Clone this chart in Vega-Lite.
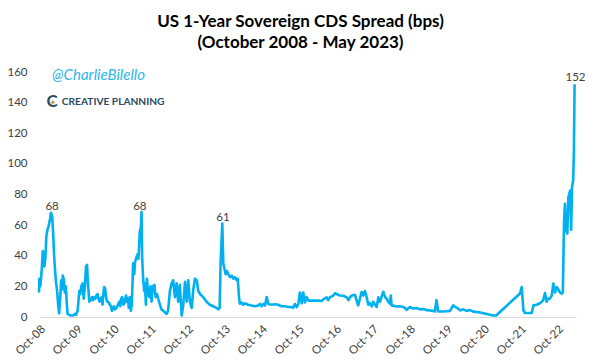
{
  "$schema": "https://vega.github.io/schema/vega-lite/v6.json",
  "autosize": {"type": "none"},
  "padding": {"left": 39, "top": 72, "right": 21, "bottom": 47},
  "width": 537,
  "height": 245,
  "background": "#ffffff",
  "config": {"view": {"stroke": null}, "font": "Lato"},
  "title": {
    "text": ["US 1-Year Sovereign CDS Spread (bps)", "(October 2008 - May 2023)"],
    "font": "Lato",
    "fontSize": 17,
    "fontWeight": "bold",
    "color": "#000000",
    "lineHeight": 21.5,
    "offset": 14,
    "dx": -7,
    "anchor": "middle"
  },
  "datasets": {
    "cds": [
      {"d": "2008-10-01", "v": 16}, {"d": "2008-10-05", "v": 25}, {"d": "2008-10-13", "v": 20}, {"d": "2008-10-20", "v": 24},
      {"d": "2008-10-30", "v": 33}, {"d": "2008-11-07", "v": 43}, {"d": "2008-11-14", "v": 41}, {"d": "2008-11-24", "v": 33},
      {"d": "2008-12-04", "v": 40}, {"d": "2008-12-13", "v": 53}, {"d": "2008-12-23", "v": 57}, {"d": "2009-01-03", "v": 59},
      {"d": "2009-01-18", "v": 64}, {"d": "2009-01-27", "v": 68}, {"d": "2009-02-07", "v": 66}, {"d": "2009-02-17", "v": 56},
      {"d": "2009-02-28", "v": 39}, {"d": "2009-03-09", "v": 30}, {"d": "2009-03-19", "v": 22}, {"d": "2009-03-29", "v": 17},
      {"d": "2009-04-08", "v": 8}, {"d": "2009-04-18", "v": 2.4}, {"d": "2009-04-28", "v": 12}, {"d": "2009-05-08", "v": 24},
      {"d": "2009-05-17", "v": 18}, {"d": "2009-05-24", "v": 27}, {"d": "2009-06-04", "v": 24}, {"d": "2009-06-13", "v": 16},
      {"d": "2009-06-23", "v": 20}, {"d": "2009-07-03", "v": 8}, {"d": "2009-07-10", "v": 2}, {"d": "2009-07-22", "v": 1.5},
      {"d": "2009-08-12", "v": 1}, {"d": "2009-09-01", "v": 1}, {"d": "2009-09-21", "v": 2}, {"d": "2009-10-01", "v": 1.5},
      {"d": "2009-10-17", "v": 4}, {"d": "2009-10-25", "v": 10}, {"d": "2009-11-03", "v": 17}, {"d": "2009-11-12", "v": 15},
      {"d": "2009-11-22", "v": 20}, {"d": "2009-12-06", "v": 22}, {"d": "2009-12-16", "v": 12}, {"d": "2009-12-28", "v": 20},
      {"d": "2010-01-08", "v": 33}, {"d": "2010-01-18", "v": 34}, {"d": "2010-01-27", "v": 22}, {"d": "2010-02-10", "v": 10},
      {"d": "2010-02-20", "v": 12}, {"d": "2010-02-28", "v": 11}, {"d": "2010-03-09", "v": 13}, {"d": "2010-03-19", "v": 11},
      {"d": "2010-03-29", "v": 13}, {"d": "2010-04-10", "v": 12}, {"d": "2010-04-20", "v": 14}, {"d": "2010-05-02", "v": 15},
      {"d": "2010-05-11", "v": 12}, {"d": "2010-05-21", "v": 10}, {"d": "2010-06-01", "v": 12}, {"d": "2010-06-11", "v": 13},
      {"d": "2010-06-20", "v": 8}, {"d": "2010-06-28", "v": 15}, {"d": "2010-07-06", "v": 19.6}, {"d": "2010-07-16", "v": 18.5},
      {"d": "2010-07-25", "v": 13}, {"d": "2010-08-05", "v": 10}, {"d": "2010-08-15", "v": 10}, {"d": "2010-09-01", "v": 8},
      {"d": "2010-09-11", "v": 7}, {"d": "2010-09-21", "v": 4}, {"d": "2010-10-01", "v": 6}, {"d": "2010-10-10", "v": 7},
      {"d": "2010-10-20", "v": 5}, {"d": "2010-11-05", "v": 6}, {"d": "2010-11-19", "v": 8}, {"d": "2010-12-02", "v": 10},
      {"d": "2010-12-12", "v": 7}, {"d": "2010-12-21", "v": 12}, {"d": "2011-01-01", "v": 13}, {"d": "2011-01-11", "v": 8},
      {"d": "2011-01-22", "v": 9}, {"d": "2011-02-07", "v": 14}, {"d": "2011-02-17", "v": 10}, {"d": "2011-02-26", "v": 12},
      {"d": "2011-03-06", "v": 6}, {"d": "2011-03-16", "v": 13}, {"d": "2011-03-26", "v": 4}, {"d": "2011-04-05", "v": 8},
      {"d": "2011-04-18", "v": 35}, {"d": "2011-04-29", "v": 28}, {"d": "2011-05-07", "v": 36}, {"d": "2011-05-21", "v": 39},
      {"d": "2011-06-01", "v": 41}, {"d": "2011-06-10", "v": 38}, {"d": "2011-06-23", "v": 56}, {"d": "2011-07-03", "v": 58},
      {"d": "2011-07-10", "v": 68.6}, {"d": "2011-07-16", "v": 39}, {"d": "2011-07-25", "v": 26}, {"d": "2011-08-05", "v": 17},
      {"d": "2011-08-12", "v": 22}, {"d": "2011-08-22", "v": 8}, {"d": "2011-09-01", "v": 25}, {"d": "2011-09-11", "v": 18},
      {"d": "2011-09-24", "v": 13}, {"d": "2011-10-07", "v": 20}, {"d": "2011-10-17", "v": 10}, {"d": "2011-10-30", "v": 20},
      {"d": "2011-11-14", "v": 21}, {"d": "2011-11-26", "v": 13}, {"d": "2011-12-09", "v": 15}, {"d": "2011-12-21", "v": 12},
      {"d": "2012-01-08", "v": 8}, {"d": "2012-01-22", "v": 5}, {"d": "2012-02-10", "v": 4}, {"d": "2012-02-26", "v": 3},
      {"d": "2012-03-13", "v": 2}, {"d": "2012-03-28", "v": 4}, {"d": "2012-04-15", "v": 17}, {"d": "2012-05-02", "v": 22},
      {"d": "2012-05-17", "v": 24}, {"d": "2012-06-04", "v": 13}, {"d": "2012-06-20", "v": 22}, {"d": "2012-07-06", "v": 10},
      {"d": "2012-07-22", "v": 21}, {"d": "2012-08-09", "v": 1}, {"d": "2012-08-25", "v": 8}, {"d": "2012-09-11", "v": 23},
      {"d": "2012-09-28", "v": 10}, {"d": "2012-10-13", "v": 24}, {"d": "2012-10-30", "v": 10}, {"d": "2012-11-16", "v": 6},
      {"d": "2012-12-02", "v": 18}, {"d": "2012-12-18", "v": 25}, {"d": "2013-01-05", "v": 24}, {"d": "2013-01-20", "v": 17},
      {"d": "2013-02-07", "v": 15}, {"d": "2013-03-09", "v": 13}, {"d": "2013-04-12", "v": 10}, {"d": "2013-05-14", "v": 8},
      {"d": "2013-06-16", "v": 7}, {"d": "2013-07-19", "v": 6}, {"d": "2013-08-05", "v": 5}, {"d": "2013-08-19", "v": 6},
      {"d": "2013-08-28", "v": 35}, {"d": "2013-09-14", "v": 61}, {"d": "2013-09-24", "v": 35}, {"d": "2013-10-17", "v": 28},
      {"d": "2013-10-30", "v": 30}, {"d": "2013-11-12", "v": 28}, {"d": "2013-11-29", "v": 26}, {"d": "2013-12-16", "v": 27},
      {"d": "2014-01-01", "v": 25}, {"d": "2014-01-18", "v": 26}, {"d": "2014-02-02", "v": 24}, {"d": "2014-02-14", "v": 25},
      {"d": "2014-02-26", "v": 13}, {"d": "2014-03-06", "v": 8.7}, {"d": "2014-03-23", "v": 9.5}, {"d": "2014-04-08", "v": 8},
      {"d": "2014-04-25", "v": 9}, {"d": "2014-05-27", "v": 8}, {"d": "2014-06-29", "v": 7.5}, {"d": "2014-08-02", "v": 7},
      {"d": "2014-09-04", "v": 7.5}, {"d": "2014-09-21", "v": 8.5}, {"d": "2014-10-07", "v": 7}, {"d": "2014-10-23", "v": 8.5},
      {"d": "2014-11-10", "v": 7.5}, {"d": "2014-11-26", "v": 13}, {"d": "2014-12-12", "v": 8.5}, {"d": "2015-01-15", "v": 8},
      {"d": "2015-02-17", "v": 8.3}, {"d": "2015-03-19", "v": 8}, {"d": "2015-04-22", "v": 7}, {"d": "2015-05-24", "v": 7},
      {"d": "2015-06-26", "v": 6.5}, {"d": "2015-07-29", "v": 6.5}, {"d": "2015-08-15", "v": 6}, {"d": "2015-09-01", "v": 8.5},
      {"d": "2015-09-18", "v": 6.5}, {"d": "2015-10-04", "v": 8.5}, {"d": "2015-10-20", "v": 16}, {"d": "2015-11-07", "v": 9},
      {"d": "2015-11-22", "v": 16}, {"d": "2015-12-09", "v": 9.5}, {"d": "2015-12-25", "v": 13}, {"d": "2016-01-11", "v": 10.7},
      {"d": "2016-02-14", "v": 10.7}, {"d": "2016-03-16", "v": 10.7}, {"d": "2016-04-18", "v": 10.7}, {"d": "2016-05-21", "v": 10.5},
      {"d": "2016-06-07", "v": 11.5}, {"d": "2016-07-10", "v": 12.8}, {"d": "2016-07-25", "v": 11}, {"d": "2016-08-12", "v": 13},
      {"d": "2016-09-14", "v": 14}, {"d": "2016-10-01", "v": 15.5}, {"d": "2016-10-17", "v": 15}, {"d": "2016-11-19", "v": 14},
      {"d": "2016-12-21", "v": 13.9}, {"d": "2017-01-24", "v": 12.8}, {"d": "2017-02-10", "v": 11}, {"d": "2017-02-26", "v": 13},
      {"d": "2017-03-16", "v": 14}, {"d": "2017-04-15", "v": 14.5}, {"d": "2017-05-01", "v": 11}, {"d": "2017-05-17", "v": 7.6},
      {"d": "2017-06-04", "v": 12}, {"d": "2017-06-20", "v": 16.3}, {"d": "2017-07-06", "v": 14}, {"d": "2017-07-22", "v": 17},
      {"d": "2017-08-09", "v": 13}, {"d": "2017-08-25", "v": 8}, {"d": "2017-09-11", "v": 9}, {"d": "2017-09-28", "v": 7},
      {"d": "2017-10-13", "v": 10}, {"d": "2017-10-30", "v": 8}, {"d": "2017-11-16", "v": 6.5}, {"d": "2017-12-02", "v": 12.8},
      {"d": "2017-12-18", "v": 10}, {"d": "2018-01-20", "v": 16.5}, {"d": "2018-02-07", "v": 13}, {"d": "2018-02-24", "v": 11.8},
      {"d": "2018-03-09", "v": 10}, {"d": "2018-03-26", "v": 8.7}, {"d": "2018-04-04", "v": 14}, {"d": "2018-04-12", "v": 7.6},
      {"d": "2018-06-01", "v": 6.9}, {"d": "2018-07-03", "v": 7}, {"d": "2018-08-05", "v": 6.5}, {"d": "2018-08-22", "v": 6},
      {"d": "2018-09-08", "v": 4.7}, {"d": "2018-10-10", "v": 6.5}, {"d": "2018-11-12", "v": 5.5}, {"d": "2018-12-16", "v": 5.9},
      {"d": "2019-01-17", "v": 5}, {"d": "2019-02-19", "v": 5.2}, {"d": "2019-03-23", "v": 4.5}, {"d": "2019-04-25", "v": 4.3},
      {"d": "2019-05-27", "v": 4}, {"d": "2019-06-13", "v": 3.6}, {"d": "2019-06-29", "v": 11}, {"d": "2019-07-16", "v": 3.6},
      {"d": "2019-09-04", "v": 3.6}, {"d": "2019-10-07", "v": 3.8}, {"d": "2019-11-09", "v": 4}, {"d": "2019-12-11", "v": 7.6},
      {"d": "2020-01-14", "v": 6}, {"d": "2020-01-30", "v": 5.5}, {"d": "2020-02-17", "v": 4.3}, {"d": "2020-03-19", "v": 5},
      {"d": "2020-04-22", "v": 4}, {"d": "2020-05-24", "v": 4.5}, {"d": "2020-06-26", "v": 3.5}, {"d": "2020-07-29", "v": 3.3},
      {"d": "2020-09-01", "v": 3}, {"d": "2020-10-03", "v": 2.5}, {"d": "2020-11-07", "v": 2}, {"d": "2020-12-09", "v": 1.5},
      {"d": "2021-01-11", "v": 1}, {"d": "2021-02-07", "v": 1}, {"d": "2021-09-30", "v": 15.3}, {"d": "2021-10-17", "v": 19.6},
      {"d": "2021-11-03", "v": 4.4}, {"d": "2021-11-19", "v": 2.6}, {"d": "2022-01-24", "v": 2.6}, {"d": "2022-02-10", "v": 7.6},
      {"d": "2022-03-13", "v": 8}, {"d": "2022-04-15", "v": 9}, {"d": "2022-05-01", "v": 9.8}, {"d": "2022-05-17", "v": 11},
      {"d": "2022-06-04", "v": 15.7}, {"d": "2022-06-20", "v": 10}, {"d": "2022-07-06", "v": 12}, {"d": "2022-07-22", "v": 12},
      {"d": "2022-08-09", "v": 14}, {"d": "2022-08-25", "v": 21.8}, {"d": "2022-09-11", "v": 16}, {"d": "2022-09-28", "v": 19.6},
      {"d": "2022-10-13", "v": 18}, {"d": "2022-10-30", "v": 16}, {"d": "2022-11-16", "v": 15.3}, {"d": "2022-11-27", "v": 16},
      {"d": "2022-12-09", "v": 62}, {"d": "2022-12-18", "v": 74}, {"d": "2022-12-28", "v": 57}, {"d": "2023-01-11", "v": 54.5},
      {"d": "2023-01-20", "v": 78}, {"d": "2023-02-07", "v": 82.6}, {"d": "2023-02-17", "v": 57}, {"d": "2023-02-26", "v": 85},
      {"d": "2023-03-09", "v": 89}, {"d": "2023-03-16", "v": 107}, {"d": "2023-03-23", "v": 152}
    ],
    "peaks": [
      {"d": "2009-02-07", "v": 68, "label": "68"},
      {"d": "2011-06-23", "v": 68, "label": "68"},
      {"d": "2013-09-21", "v": 61, "label": "61"},
      {"d": "2023-04-01", "v": 152, "label": "152"}
    ]
  },
  "encoding": {
    "x": {
      "field": "d", "type": "temporal",
      "scale": {"type": "utc", "domain": [{"year": 2008, "month": 10, "date": 1, "utc": true}, {"year": 2023, "month": 4, "date": 6, "utc": true}]},
      "axis": {
        "title": null,
        "format": "%b-%y",
        "values": [
          {"year": 2008, "month": 10, "date": 1, "utc": true}, {"year": 2009, "month": 10, "date": 1, "utc": true},
          {"year": 2010, "month": 10, "date": 1, "utc": true}, {"year": 2011, "month": 10, "date": 1, "utc": true},
          {"year": 2012, "month": 10, "date": 1, "utc": true}, {"year": 2013, "month": 10, "date": 1, "utc": true},
          {"year": 2014, "month": 10, "date": 1, "utc": true}, {"year": 2015, "month": 10, "date": 1, "utc": true},
          {"year": 2016, "month": 10, "date": 1, "utc": true}, {"year": 2017, "month": 10, "date": 1, "utc": true},
          {"year": 2018, "month": 10, "date": 1, "utc": true}, {"year": 2019, "month": 10, "date": 1, "utc": true},
          {"year": 2020, "month": 10, "date": 1, "utc": true}, {"year": 2021, "month": 10, "date": 1, "utc": true},
          {"year": 2022, "month": 10, "date": 1, "utc": true}
        ],
        "labelAngle": -45,
        "labelAlign": "right",
        "labelBaseline": "top",
        "labelPadding": 6,
        "labelFont": "Lato",
        "labelFontSize": 11.5,
        "labelColor": "#404040",
        "labelOverlap": false,
        "labelFlush": false,
        "ticks": false,
        "grid": false,
        "domainColor": "#d9d9d9",
        "domainWidth": 1
      }
    },
    "y": {
      "field": "v", "type": "quantitative",
      "scale": {"domain": [0, 160], "nice": false},
      "axis": {
        "title": null,
        "values": [0, 20, 40, 60, 80, 100, 120, 140, 160],
        "labelPadding": 12,
        "labelFont": "Lato",
        "labelFontSize": 11.5,
        "labelColor": "#404040",
        "ticks": false,
        "grid": false,
        "domain": false
      }
    }
  },
  "layer": [
    {
      "data": {"name": "cds"},
      "mark": {"type": "line", "color": "#00b0f0", "strokeWidth": 2.6, "strokeJoin": "round", "clip": false}
    },
    {
      "data": {"name": "peaks"},
      "mark": {"type": "text", "font": "Lato", "fontSize": 11.5, "color": "#404040", "baseline": "alphabetic", "align": "center", "dy": -3},
      "encoding": {"text": {"field": "label"}}
    },
    {
      "data": {"values": [{"d": "2009-02-07", "v": 157.9, "t": "@CharlieBilello"}]},
      "mark": {"type": "text", "font": "Lato", "fontSize": 15, "fontStyle": "italic", "color": "#29b6e8", "align": "left", "baseline": "middle"},
      "encoding": {"text": {"field": "t"}}
    },
    {
      "data": {"values": [{"d": "2009-05-14", "v": 140.2, "t": "CREATIVE PLANNING"}]},
      "mark": {"type": "text", "font": "Lato", "fontSize": 10.2, "fontWeight": "bold", "color": "#2d4a63", "align": "left", "baseline": "middle"},
      "encoding": {"text": {"field": "t"}}
    },
    {
      "data": {"values": [{"d": "2009-02-07", "v": 140.2, "t": "C"}]},
      "mark": {"type": "text", "font": "Lato", "fontSize": 17, "fontWeight": "bold", "color": "#2d4a63", "align": "center", "baseline": "middle"},
      "encoding": {"text": {"field": "t"}}
    },
    {
      "data": {"values": [{"d": "2009-02-14", "v": 140.2}]},
      "mark": {"type": "point", "shape": "diamond", "filled": true, "color": "#c9a66b", "size": 22, "opacity": 1}
    }
  ]
}
